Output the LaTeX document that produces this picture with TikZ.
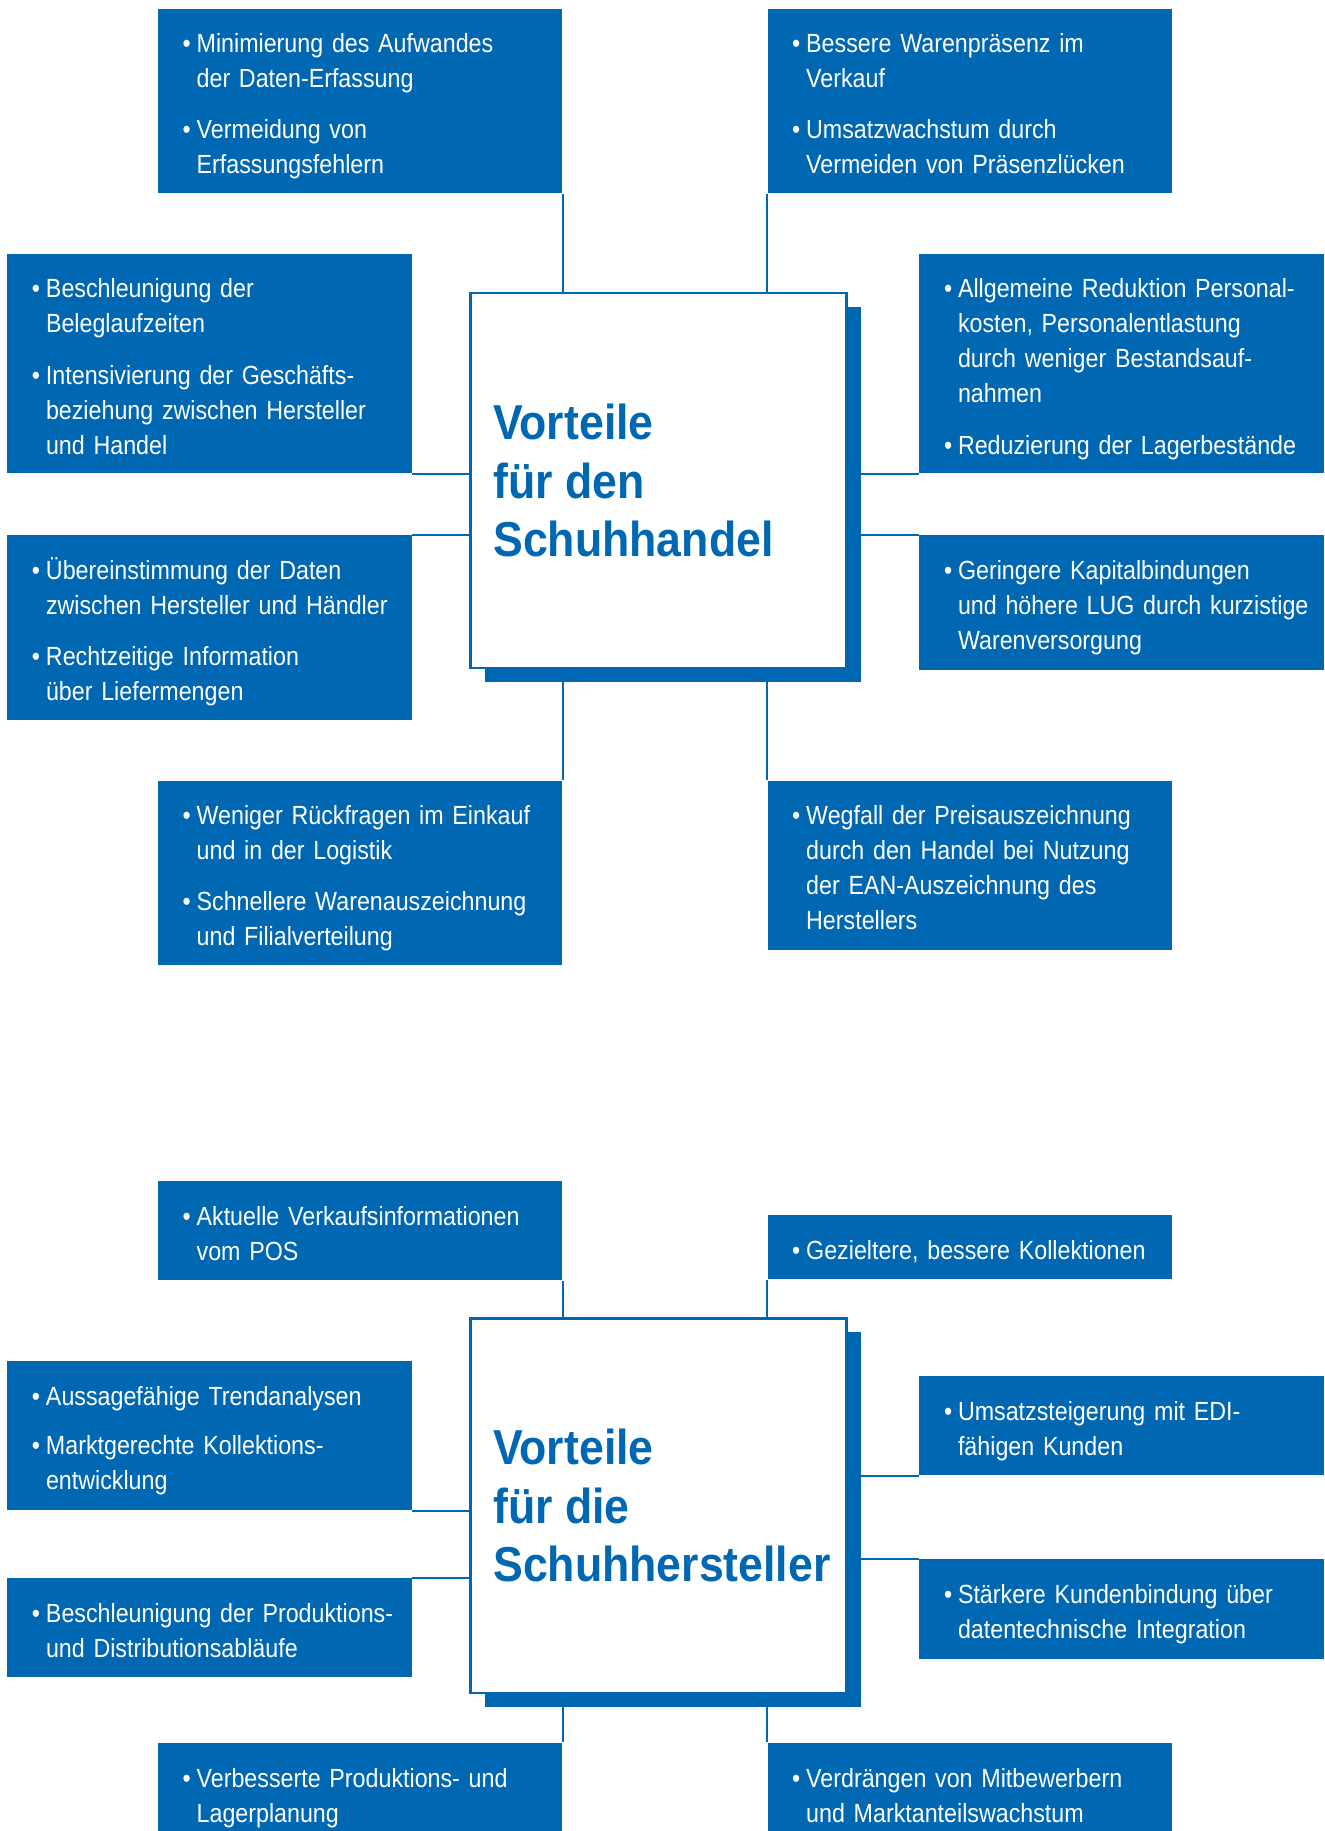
\documentclass[tikz,border=0pt]{standalone}
\usepackage{fontspec}
\setmainfont{Liberation Sans}
\newfontfamily\boxfont[FakeStretch=0.885]{Liberation Sans}
\newfontfamily\titlefont[FakeStretch=0.91]{Liberation Sans}
\usepackage{xcolor}
\definecolor{edblue}{HTML}{0067B2}
\usetikzlibrary{positioning,shadows}
\tikzset{
  infobox/.style={fill=edblue, text=white, anchor=north west, inner xsep=10.5pt,
    inner ysep=0pt, minimum width=173pt, text width=152pt, align=left,
    font=\boxfont\fontsize{11.25}{15}\selectfont},
  hub/.style={draw=edblue, line width=1pt, fill=white, anchor=north west,
    inner sep=0pt, minimum width=161pt, minimum height=160.5pt,
    drop shadow={shadow xshift=6pt, shadow yshift=-6pt, fill=edblue, opacity=1}},
  hubtitle/.style={align=left, text=edblue, inner sep=0pt,
    font=\titlefont\bfseries\fontsize{21}{25}\selectfont},
  link/.style={draw=edblue, line width=0.9pt},
}
% one bullet point; the optional argument is the gap above it
\newcommand{\bp}[2][0pt]{\par\vspace{#1}\noindent\makebox[6pt][l]{\textbullet}%
  \begin{tabular}[t]{@{}l@{}}#2\end{tabular}\par}

\begin{document}
\begin{tikzpicture}[x=0.5pt, y=-0.5pt]
\useasboundingbox (0,0) rectangle (1134,1568);
% Schuhhandel
\node[hub] (hubA) at (402,250) {};
\node[hubtitle, right=10pt of hubA.west] (titleA) {Vorteile\\für den\\Schuhhandel};
\node[infobox, minimum height=79pt] (tlA) at (135,7)
  {\bp{Minimierung des Aufwandes\\der Daten-Erfassung}\bp[6pt]{Vermeidung von\\Erfassungsfehlern}};
\node[infobox, minimum height=79pt] (trA) at (657,7)
  {\bp{Bessere Warenpräsenz im\\Verkauf}\bp[6pt]{Umsatzwachstum durch\\Vermeiden von Präsenzlücken}};
\node[infobox, minimum height=94pt] (lmA1) at (6,217)
  {\bp{Beschleunigung der\\Beleglaufzeiten}\bp[6pt]{Intensivierung der Geschäfts-\\beziehung zwischen Hersteller\\und Handel}};
\node[infobox, minimum height=94pt] (rmA1) at (787,217)
  {\bp{Allgemeine Reduktion Personal-\\kosten, Personalentlastung\\durch weniger Bestandsauf-\\nahmen}\bp[6pt]{Reduzierung der Lagerbestände}};
\node[infobox, minimum height=79pt] (lmA2) at (6,458)
  {\bp{Übereinstimmung der Daten\\zwischen Hersteller und Händler}\bp[6pt]{Rechtzeitige Information\\über Liefermengen}};
\node[infobox, minimum height=57.5pt] (rmA2) at (787,458)
  {\bp{Geringere Kapitalbindungen\\und höhere LUG durch kurzistige\\Warenversorgung}};
\node[infobox, minimum height=79pt] (blA) at (135,668)
  {\bp{Weniger Rückfragen im Einkauf\\und in der Logistik}\bp[6pt]{Schnellere Warenauszeichnung\\und Filialverteilung}};
\node[infobox, minimum height=72.5pt] (brA) at (657,668)
  {\bp{Wegfall der Preisauszeichnung\\durch den Handel bei Nutzung\\der EAN-Auszeichnung des\\Herstellers}};
\draw[link] (tlA.south east) -- (tlA.south east |- hubA.north);
\draw[link] (trA.south west) -- (trA.south west |- hubA.north);
\draw[link] (lmA1.south east) -- (lmA1.south east -| hubA.west);
\draw[link] (lmA2.north east) -- (lmA2.north east -| hubA.west);
\draw[link] (rmA1.south west) -- (rmA1.south west -| hubA.east);
\draw[link] (rmA2.north west) -- (rmA2.north west -| hubA.east);
\draw[link] (blA.north east) -- (blA.north east |- hubA.south);
\draw[link] (brA.north west) -- (brA.north west |- hubA.south);
% Schuhhersteller
\node[hub] (hubB) at (402,1128) {};
\node[hubtitle, right=10pt of hubB.west] (titleB) {Vorteile\\für die\\Schuhhersteller};
\node[infobox, minimum height=42.5pt] (tlB) at (135,1011)
  {\bp{Aktuelle Verkaufsinformationen\\vom POS}};
\node[infobox, minimum height=27.5pt] (trB) at (657,1040)
  {\bp{Gezieltere, bessere Kollektionen}};
\node[infobox, minimum height=64pt] (lmB1) at (6,1165)
  {\bp{Aussagefähige Trendanalysen}\bp[6pt]{Marktgerechte Kollektions-\\entwicklung}};
\node[infobox, minimum height=42.5pt] (rmB1) at (787,1178)
  {\bp{Umsatzsteigerung mit EDI-\\fähigen Kunden}};
\node[infobox, minimum height=42.5pt] (lmB2) at (6,1351)
  {\bp{Beschleunigung der Produktions-\\und Distributionsabläufe}};
\node[infobox, minimum height=42.5pt] (rmB2) at (787,1335)
  {\bp{Stärkere Kundenbindung über\\datentechnische Integration}};
\node[infobox, minimum height=42.5pt] (blB) at (135,1492)
  {\bp{Verbesserte Produktions- und\\Lagerplanung}};
\node[infobox, minimum height=42.5pt] (brB) at (657,1492)
  {\bp{Verdrängen von Mitbewerbern\\und Marktanteilswachstum}};
\draw[link] (tlB.south east) -- (tlB.south east |- hubB.north);
\draw[link] (trB.south west) -- (trB.south west |- hubB.north);
\draw[link] (lmB1.south east) -- (lmB1.south east -| hubB.west);
\draw[link] (lmB2.north east) -- (lmB2.north east -| hubB.west);
\draw[link] (rmB1.south west) -- (rmB1.south west -| hubB.east);
\draw[link] (rmB2.north west) -- (rmB2.north west -| hubB.east);
\draw[link] (blB.north east) -- (blB.north east |- hubB.south);
\draw[link] (brB.north west) -- (brB.north west |- hubB.south);
\end{tikzpicture}
\end{document}
